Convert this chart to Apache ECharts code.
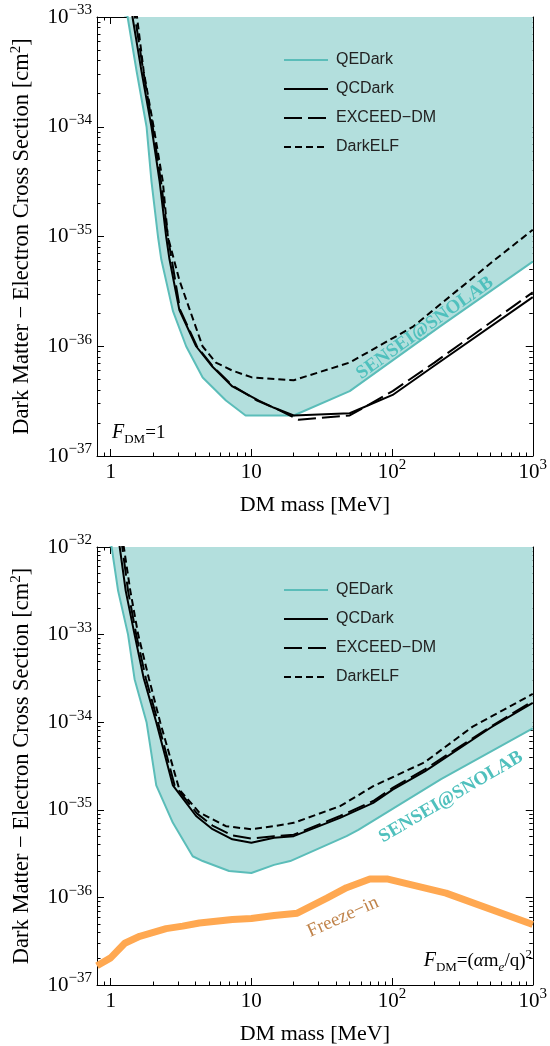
<!DOCTYPE html>
<html lang="en">
<head>
<meta charset="UTF-8">
<title>DM-electron scattering limits</title>
<style>
  html, body { margin: 0; padding: 0; background: #fff; }
  #main { width: 550px; height: 1046px; }
</style>
<script src="https://cdn.jsdelivr.net/npm/echarts@6/dist/echarts.min.js"></script>
</head>
<body>
<div id="main"></div>
<script>
// ---- top panel, F_DM = 1 ----
var mTopQE = [1.25, 1.32, 1.53, 1.80, 1.95, 2.17, 2.29, 2.77, 3.44, 4.51, 6.6, 9.1, 20, 50, 217, 1000];
var sTopQE = [1.5e-33, 1e-33, 3.2e-34, 1e-34, 3.2e-35, 1e-35, 6.2e-36, 2.1e-36, 1e-36, 5.2e-37, 3.2e-37, 2.34e-37, 2.34e-37, 3.9e-37, 1.5e-36, 5.9e-36];
var mTopQC = [1.40, 1.43, 1.66, 1.95, 2.23, 2.48, 2.62, 3.08, 4.05, 5.3, 7.33, 11.3, 14.5, 20, 50, 101, 195, 1000];
var sTopQC = [1.41e-33, 1e-33, 3.16e-34, 1e-34, 3.16e-35, 1e-35, 6.2e-36, 2.14e-36, 1e-36, 6.5e-37, 4.3e-37, 3.2e-37, 2.75e-37, 2.34e-37, 2.45e-37, 3.6e-37, 6.5e-37, 2.8e-36];
var mTopEX = [1.45, 1.49, 1.71, 1.99, 2.28, 2.55, 3.12, 4.1, 5.3, 7.3, 11, 15, 21.7, 50, 101, 200, 1000];
var sTopEX = [1.41e-33, 1e-33, 3.16e-34, 1e-34, 3.16e-35, 1e-35, 2.14e-36, 1e-36, 6.6e-37, 4.4e-37, 3.2e-37, 2.7e-37, 2.14e-37, 2.34e-37, 3.9e-37, 7.1e-37, 3.1e-36];
var mTopELF = [1.50, 1.54, 1.72, 2.02, 2.35, 2.55, 3.08, 4.5, 5.6, 7.33, 10.1, 20, 50, 140, 518, 1000];
var sTopELF = [1.41e-33, 1e-33, 3.16e-34, 1e-34, 3.16e-35, 1e-35, 4e-36, 1e-36, 7.1e-37, 6e-37, 5.2e-37, 4.9e-37, 7.1e-37, 1.5e-36, 5.9e-36, 1.15e-35];

// ---- bottom panel, F_DM = (alpha m_e / q)^2 ----
var mBotQE = [0.98, 1.016, 1.13, 1.33, 1.48, 1.80, 2.11, 2.77, 3.83, 4.51, 6.95, 10, 14.5, 18.9, 47.5, 57.6, 223, 1000];
var sBotQE = [1.41e-32, 1e-32, 3.16e-33, 1e-33, 3.1e-34, 1e-34, 1.9e-35, 7.1e-36, 2.95e-36, 2.6e-36, 2e-36, 1.9e-36, 2.35e-36, 2.6e-36, 5e-36, 5.9e-36, 2.24e-35, 8.5e-35];
var mBotQC = [1.12, 1.16, 1.28, 1.48, 1.72, 2.11, 2.77, 4.05, 5.3, 7.33, 10, 14.5, 20, 42.7, 73.5, 101, 171, 504, 1000];
var sBotQC = [1.41e-32, 1e-32, 3.16e-33, 1e-33, 3.16e-34, 1e-34, 1.9e-35, 8.5e-36, 6e-36, 4.6e-36, 4.2e-36, 4.8e-36, 5e-36, 8.1e-36, 1.2e-35, 1.7e-35, 2.75e-35, 8.7e-35, 1.66e-34];
var mBotEX = [1.18, 1.21, 1.33, 1.52, 1.78, 2.17, 2.85, 4.1, 5.3, 7.33, 10, 14.5, 20, 42.7, 73.5, 101, 171, 504, 1000];
var sBotEX = [1.41e-32, 1e-32, 3.16e-33, 1e-33, 3.16e-34, 1e-34, 1.9e-35, 9.1e-36, 6.6e-36, 5.1e-36, 4.7e-36, 5e-36, 5.2e-36, 8.5e-36, 1.26e-35, 1.78e-35, 2.9e-35, 8.9e-35, 1.74e-34];
var mBotELF = [1.20, 1.24, 1.38, 1.57, 1.87, 2.25, 3.08, 4.27, 6.6, 10, 14.5, 20, 42.7, 73.5, 171, 374, 1000];
var sBotELF = [1.41e-32, 1e-32, 3.16e-33, 1e-33, 3.16e-34, 1e-34, 1.7e-35, 9.3e-36, 6.5e-36, 6e-36, 6.5e-36, 7.1e-36, 1.1e-35, 1.86e-35, 3.5e-35, 8.9e-35, 2.1e-34];
var mFreeze = [0.8, 1.0, 1.26, 1.61, 2.48, 3.25, 4.27, 7.33, 10, 14.5, 21.2, 34.4, 47.5, 69.6, 93.5, 242, 1000];
var sFreeze = [1.66e-37, 2.04e-37, 3e-37, 3.6e-37, 4.4e-37, 4.7e-37, 5.1e-37, 5.6e-37, 5.75e-37, 6.2e-37, 6.6e-37, 9.8e-37, 1.29e-36, 1.62e-36, 1.62e-36, 1.12e-36, 4.9e-37];

// ticks (in MeV / cm^2; the axes run in log10 of these)
var xMin = 0.8, xMax = 1000;
var xMajor = [1, 10, 100, 1000];
var xMinor = [0.9, 2, 3, 4, 5, 6, 7, 8, 9, 20, 30, 40, 50, 60, 70, 80, 90, 200, 300, 400, 500, 600, 700, 800, 900];
var yExpTop = [-37, -36, -35, -34, -33];
var yExpBot = [-37, -36, -35, -34, -33, -32];
var legendNames = ['QEDark', 'QCDark', 'EXCEED\u2212DM', 'DarkELF'];

var SERIF = "'Liberation Serif', 'Times New Roman', serif";
var SANS = "'Liberation Sans', Arial, sans-serif";
var TEAL = '#5BBDB9';

var lg = Math.log10;
function pairs(m, s) {
    return m.map(function (v, i) { return [lg(v), lg(s[i])]; });
}
function yMinor(exps) {
    var out = [];
    for (var i = 0; i < exps.length - 1; i++) {
        for (var j = 2; j <= 9; j++) out.push(exps[i] + lg(j));
    }
    return out;
}

var tickRich = {
    b: { fontFamily: SERIF, fontSize: 21, lineHeight: 28, color: '#000' },
    sup: { fontFamily: SERIF, fontSize: 15, lineHeight: 18, verticalAlign: 'top', color: '#000' }
};
function xFmt(v) {
    var n = Math.round(v);
    if (n === 0) return '{b|1}';
    if (n === 1) return '{b|10}';
    return '{b|10}{sup|' + n + '}';
}
function yFmt(v) {
    var n = Math.round(v);
    return '{b|10}{sup|' + String(n).replace('-', '\u2212') + '}';
}

// one side of the frame: major ticks (+ labels) and a twin for minor ticks
function sideAxes(gi, pos, min, max, major, minor, labelled, fmt, extra) {
    var a = {
        type: 'value', gridIndex: gi, position: pos, min: min, max: max, scale: true,
        axisLine: { show: true, onZero: false, lineStyle: { color: '#000', width: 1 } },
        axisTick: { show: true, inside: true, length: 7, customValues: major, lineStyle: { color: '#000', width: 1 } },
        axisLabel: labelled ? { show: true, customValues: major, formatter: fmt, rich: tickRich, margin: pos === 'left' ? 5 : 2 } : { show: false },
        splitLine: { show: false }
    };
    if (extra) for (var k in extra) a[k] = extra[k];
    var b = {
        type: 'value', gridIndex: gi, position: pos, min: min, max: max, scale: true,
        axisLine: { show: false, onZero: false },
        axisTick: { show: true, inside: true, length: 3.5, customValues: minor, lineStyle: { color: '#000', width: 1 } },
        axisLabel: { show: false },
        splitLine: { show: false }
    };
    return [a, b];
}

var xName = {
    name: 'DM mass [MeV]', nameLocation: 'middle', nameGap: 38,
    nameTextStyle: { fontFamily: SERIF, fontSize: 22, color: '#000' }
};
var yName = {
    name: '{b|Dark Matter \u2212 Electron Cross Section [cm}{sup|2}{b|]}', nameLocation: 'middle', nameGap: 62,
    nameTextStyle: {
        rich: {
            b: { fontFamily: SERIF, fontSize: 22.5, lineHeight: 26, color: '#000' },
            sup: { fontFamily: SERIF, fontSize: 15, lineHeight: 18, verticalAlign: 'top', color: '#000' }
        }
    }
};

var xAxes = [], yAxes = [];
var xMajL = xMajor.map(lg), xMinL = xMinor.map(lg);
[0, 1].forEach(function (gi) {
    var exps = gi === 0 ? yExpTop : yExpBot;
    var ymin = exps[0], ymax = exps[exps.length - 1];
    xAxes = xAxes.concat(sideAxes(gi, 'bottom', lg(xMin), lg(xMax), xMajL, xMinL, true, xFmt, xName));
    xAxes = xAxes.concat(sideAxes(gi, 'top', lg(xMin), lg(xMax), xMajL, xMinL, false));
    yAxes = yAxes.concat(sideAxes(gi, 'left', ymin, ymax, exps, yMinor(exps), true, yFmt, yName));
    yAxes = yAxes.concat(sideAxes(gi, 'right', ymin, ymax, exps, yMinor(exps), false));
});

function lineSeries(name, gi, m, s, style, extra) {
    var o = {
        name: name, type: 'line', xAxisIndex: gi * 4, yAxisIndex: gi * 4,
        data: pairs(m, s), symbol: 'none', showSymbol: false, silent: true,
        lineStyle: style, itemStyle: { color: style.color }
    };
    if (extra) for (var k in extra) o[k] = extra[k];
    return o;
}
var qeStyle = { color: TEAL, width: 2 };
var qcStyle = { color: '#000', width: 2 };
var exStyle = { color: '#000', width: 2, type: [18, 6] };
var elfStyle = { color: '#000', width: 2, type: [7, 4] };
var qeExtra = { areaStyle: { color: '#B3DFDD', opacity: 1, origin: 'end' }, z: 1 };

var series = [
    lineSeries('QEDark', 0, mTopQE, sTopQE, qeStyle, qeExtra),
    lineSeries('QCDark', 0, mTopQC, sTopQC, qcStyle),
    lineSeries('EXCEED\u2212DM', 0, mTopEX, sTopEX, exStyle),
    lineSeries('DarkELF', 0, mTopELF, sTopELF, elfStyle),
    lineSeries('QEDark', 1, mBotQE, sBotQE, qeStyle, qeExtra),
    lineSeries('Freeze-in', 1, mFreeze, sFreeze, { color: '#FFA851', width: 7 }),
    lineSeries('QCDark', 1, mBotQC, sBotQC, qcStyle),
    lineSeries('EXCEED\u2212DM', 1, mBotEX, sBotEX, exStyle),
    lineSeries('DarkELF', 1, mBotELF, sBotELF, elfStyle)
];

function legendAt(top) {
    return {
        data: legendNames, orient: 'vertical', left: 283, top: top, padding: 0,
        itemWidth: 44, itemHeight: 14, itemGap: 13,
        selectedMode: false,
        itemStyle: { opacity: 0 },
        textStyle: { fontFamily: SANS, fontSize: 16, lineHeight: 16, color: '#222', padding: [0, 0, 0, 3] }
    };
}

function rot(deg) { return deg * Math.PI / 180; }
var fdmRich = {
    it: { fontFamily: SERIF, fontStyle: 'italic', fontSize: 20, lineHeight: 26, color: '#000' },
    n: { fontFamily: SERIF, fontSize: 19, lineHeight: 26, color: '#000' },
    sub: { fontFamily: SERIF, fontSize: 13, lineHeight: 17, verticalAlign: 'bottom', color: '#000' },
    subi: { fontFamily: SERIF, fontStyle: 'italic', fontSize: 13, lineHeight: 17, verticalAlign: 'bottom', color: '#000' },
    itn: { fontFamily: SERIF, fontStyle: 'italic', fontSize: 19, lineHeight: 26, color: '#000' },
    sup: { fontFamily: SERIF, fontSize: 13, lineHeight: 17, verticalAlign: 'top', color: '#000' }
};
var labelFont = 'bold 19px ' + SERIF;

var option = {
    animation: false,
    backgroundColor: '#fff',
    grid: [
        { left: 97, top: 17, width: 438, height: 439 },
        { left: 97, top: 547, width: 438, height: 439 }
    ],
    legend: [legendAt(52), legendAt(582)],
    xAxis: xAxes,
    yAxis: yAxes,
    series: series,
    graphic: [
        { type: 'text', x: 425, y: 328, rotation: rot(35.5), z: 50,
          style: { text: 'SENSEI@SNOLAB', font: labelFont, fill: '#4FC0BD', align: 'center', verticalAlign: 'middle' } },
        { type: 'text', x: 451, y: 797, rotation: rot(30.5), z: 50,
          style: { text: 'SENSEI@SNOLAB', font: labelFont, fill: '#4FC0BD', align: 'center', verticalAlign: 'middle' } },
        { type: 'text', x: 343, y: 917, rotation: rot(24), z: 50,
          style: { text: 'Freeze\u2212in', font: '19px ' + SERIF, fill: '#C0834A', align: 'center', verticalAlign: 'middle' } },
        { type: 'text', x: 112, y: 433, z: 50,
          style: { text: '{it|F}{sub|DM}{n|=1}', rich: fdmRich, align: 'left', verticalAlign: 'middle' } },
        { type: 'text', x: 532, y: 961, z: 50,
          style: { text: '{it|F}{sub|DM}{n|=(}{itn|\u03B1}{n|m}{subi|e}{n|/q)}{sup|2}', rich: fdmRich, align: 'right', verticalAlign: 'middle' } }
    ]
};

var chart = echarts.init(document.getElementById('main'), null, { renderer: 'canvas' });
chart.setOption(option);
</script>
</body>
</html>
